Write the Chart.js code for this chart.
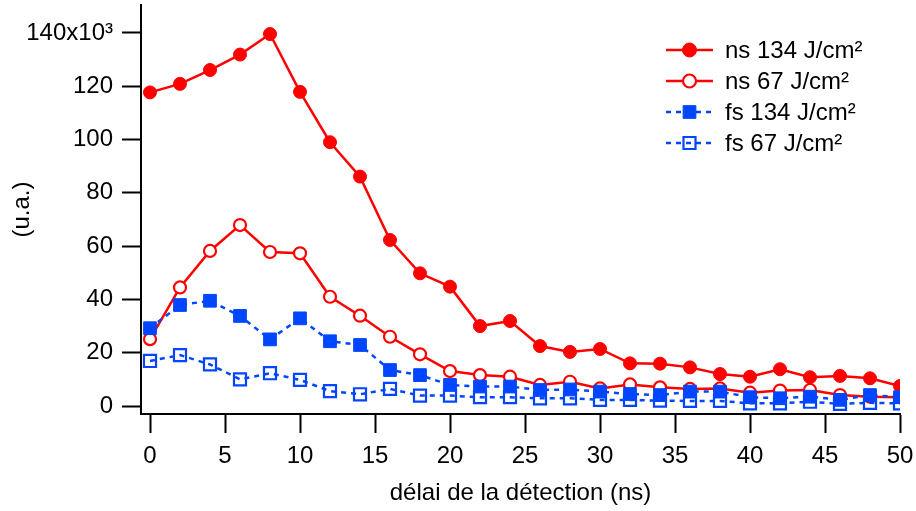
<!DOCTYPE html>
<html>
<head>
<meta charset="utf-8">
<script src="https://cdn.jsdelivr.net/npm/chart.js@4/dist/chart.umd.min.js"></script>
<style>
  html, body { margin: 0; padding: 0; background: #fff; }
  #wrap { width: 916px; height: 511px; }
</style>
</head>
<body>
<div id="wrap"><canvas id="c" width="916" height="511"></canvas></div>
<script>
const delays = [0,2,4,6,8,10,12,14,16,18,20,22,24,26,28,30,32,34,36,38,40,42,44,46,48,50];
const ns134 = [117.7,120.9,126.1,131.9,139.6,117.9,99.0,86.1,62.3,49.8,44.8,30.0,31.9,22.5,20.3,21.4,16.0,15.9,14.5,12.0,11.0,13.8,10.8,11.3,10.4,7.5];
const ns67  = [25.1,44.5,58.2,67.9,57.8,57.3,41.0,33.9,26.0,19.4,13.1,11.6,11.0,7.9,9.1,6.6,8.1,7.0,6.4,6.6,5.0,5.8,6.0,4.1,3.5,3.3];
const fs134 = [29.2,37.9,39.5,33.8,25.0,32.9,24.3,22.9,13.5,11.6,7.9,7.3,7.3,6.0,6.2,5.4,4.5,4.1,5.4,5.4,3.3,2.9,3.5,2.3,4.1,3.3];
const fs67  = [16.9,19.1,15.6,10.0,12.3,9.8,5.6,4.4,6.4,3.9,3.9,3.3,3.3,2.9,2.9,2.3,2.3,2.0,1.9,1.9,1.0,1.0,1.6,0.8,1.2,1.0];
const seriesNames = ['ns 134 J/cm²','ns 67 J/cm²','fs 134 J/cm²','fs 67 J/cm²'];
const xTicks = [0,5,10,15,20,25,30,35,40,45,50];
const yTicks = [0,20,40,60,80,100,120,140];
const xTitle = 'délai de la détection (ns)';
const yTitle = '(u.a.)';

const RED = '#ff0000';
const BLUE = '#0046ff';
const FONT = "'Liberation Sans', Arial, Helvetica, sans-serif";

function pts(arr) { return arr.map((v, i) => ({ x: delays[i], y: v })); }

const datasets = [
  { label: seriesNames[0], data: pts(ns134), borderColor: RED, backgroundColor: RED, borderWidth: 2.5,
    pointStyle: 'circle', pointRadius: 6.5, pointBorderWidth: 1, pointBackgroundColor: RED, order: 4 },
  { label: seriesNames[1], data: pts(ns67), borderColor: RED, backgroundColor: '#fff', borderWidth: 2.5,
    pointStyle: 'circle', pointRadius: 6, pointBorderWidth: 2.2, pointBackgroundColor: '#fff', order: 3 },
  { label: seriesNames[2], data: pts(fs134), borderColor: BLUE, backgroundColor: BLUE, borderWidth: 2.5,
    borderDash: [5, 5], pointStyle: 'rect', pointRadius: 9, pointBorderWidth: 1, pointBackgroundColor: BLUE, order: 2 },
  { label: seriesNames[3], data: pts(fs67), borderColor: BLUE, backgroundColor: 'rgba(0,0,0,0)', borderWidth: 2.5,
    borderDash: [5, 5], pointStyle: 'rect', pointRadius: 8.5, pointBorderWidth: 2.2, pointBackgroundColor: 'rgba(0,0,0,0)', order: 1 }
];

const legendPlugin = {
  id: 'igorLegend',
  afterDraw(chart) {
    const ctx = chart.ctx;
    ctx.save();
    [0, 1, 2, 3].forEach((i) => {
      const ds = chart.data.datasets[i];
      const y = 50 + i * 31;
      const x0 = 666, x1 = 713, xm = 689.5;
      ctx.strokeStyle = ds.borderColor;
      ctx.lineWidth = ds.borderWidth;
      ctx.setLineDash(ds.borderDash || []);
      ctx.beginPath();
      ctx.moveTo(x0, y); ctx.lineTo(x1, y);
      ctx.stroke();
      ctx.setLineDash([]);
      ctx.fillStyle = ds.pointBackgroundColor;
      ctx.strokeStyle = ds.borderColor;
      ctx.lineWidth = ds.pointBorderWidth;
      ctx.beginPath();
      if (ds.pointStyle === 'circle') {
        ctx.arc(xm, y, ds.pointRadius + 0.5, 0, Math.PI * 2);
      } else {
        const h = ds.pointRadius * Math.SQRT1_2;
        ctx.rect(xm - h, y - h, 2 * h, 2 * h);
      }
      ctx.fill();
      ctx.stroke();
      ctx.fillStyle = '#000';
      ctx.font = '24px ' + FONT;
      ctx.textBaseline = 'middle';
      ctx.textAlign = 'left';
      ctx.fillText(ds.label, 725, y + 1);
    });
    ctx.restore();
  }
};

new Chart(document.getElementById('c'), {
  type: 'line',
  data: { datasets },
  options: {
    responsive: false,
    animation: false,
    devicePixelRatio: 1,
    layout: { autoPadding: false, padding: { top: 5, right: 16, left: 0, bottom: 0 } },
    plugins: { legend: { display: false }, tooltip: { enabled: false } },
    elements: { line: { tension: 0 } },
    scales: {
      x: {
        type: 'linear', position: 'bottom', min: -0.6, max: 50,
        afterBuildTicks(scale) { scale.ticks = xTicks.map(v => ({ value: v })); },
        afterFit(scale) { scale.height = 97; scale.paddingLeft = 0; scale.paddingRight = 0; },
        grid: { drawOnChartArea: false, drawTicks: true, tickLength: 19, tickWidth: 2, tickColor: '#000' },
        border: { display: true, color: '#000', width: 2 },
        ticks: { color: '#000', font: { family: FONT, size: 24 }, padding: 9, maxRotation: 0, autoSkip: false },
        title: { display: true, text: xTitle, color: '#000', font: { family: FONT, size: 24 }, padding: { top: 0, bottom: 3 } }
      },
      y: {
        type: 'linear', position: 'left', min: -3, max: 150.5,
        afterBuildTicks(scale) { scale.ticks = yTicks.map(v => ({ value: v })); },
        afterFit(scale) { scale.width = 141; scale.paddingTop = 0; scale.paddingBottom = 0; },
        grid: { drawOnChartArea: false, drawTicks: true, tickLength: 19, tickWidth: 2, tickColor: '#000' },
        border: { display: true, color: '#000', width: 2 },
        ticks: {
          color: '#000', font: { family: FONT, size: 24 }, padding: 9, autoSkip: false,
          callback: (v) => v === 140 ? '140x10³' : String(v)
        },
        title: { display: true, text: yTitle, color: '#000', font: { family: FONT, size: 24 }, padding: { top: 8, bottom: 0 } }
      }
    }
  },
  plugins: [legendPlugin]
});
</script>
</body>
</html>
